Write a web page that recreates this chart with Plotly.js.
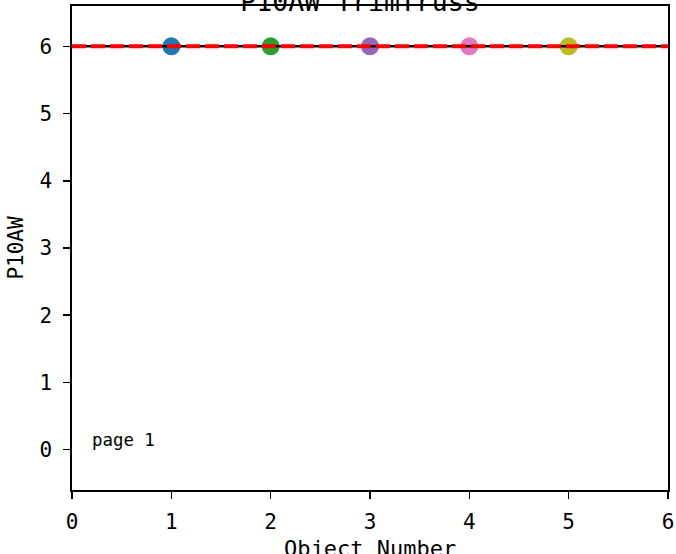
<!DOCTYPE html>
<html><head><meta charset="utf-8">
<script src="https://cdn.plot.ly/plotly-3.0.1.min.js"></script>
<style>html,body{margin:0;padding:0;background:#fff}</style>
</head><body>
<div id="chart" style="width:676px;height:554px"></div>
<script>
const objectNumbers = [1, 2, 3, 4, 5];
const p10awValues = [6, 6, 6, 6, 6];
const pointColors = ['#1f77b4', '#2ca02c', '#9467bd', '#e377c2', '#bcbd22'];
const lineX = [0, 6];
const refValue = 6;
const limitValue = 6;
const xTicks = [0, 1, 2, 3, 4, 5, 6];
const yTicks = [0, 1, 2, 3, 4, 5, 6];
const FONT = 'DejaVu Sans Mono, monospace';

const traces = objectNumbers.map((n, i) => ({
  x: [n], y: [p10awValues[i]], mode: 'markers', type: 'scatter',
  marker: {color: pointColors[i], size: 18}, showlegend: false, hoverinfo: 'skip'
}));
traces.push({x: lineX, y: lineX.map(() => refValue), mode: 'lines', type: 'scatter',
  line: {color: '#000000', width: 2.5}, showlegend: false});
traces.push({x: lineX, y: lineX.map(() => limitValue), mode: 'lines', type: 'scatter',
  line: {color: '#ff0000', width: 4, dash: '14px,5px'}, showlegend: false});

const layout = {
  width: 676, height: 554,
  margin: {l: 72, r: 8, t: 6, b: 64},
  paper_bgcolor: '#fff', plot_bgcolor: '#fff',
  font: {family: FONT, color: '#000', size: 20},
  title: {text: 'P10AW TrimTruss', font: {family: FONT, size: 26.5, color: '#000'},
    x: 360/676, xanchor: 'center', y: 1 - 2/554, yref: 'container', yanchor: 'middle'},
  xaxis: {range: [0, 6], tickvals: xTicks, ticktext: xTicks.map(String), ticks: 'outside', ticklen: 7, tickwidth: 1.6,
    tickcolor: '#000', showline: true, linecolor: '#000', linewidth: 1.6, mirror: true, showgrid: false, zeroline: false,
    tickfont: {family: FONT, size: 21}, ticklabelstandoff: 5},
  yaxis: {range: [-0.6, 6.6], tickvals: yTicks, ticktext: yTicks.map(String), ticks: 'outside', ticklen: 7, tickwidth: 1.6,
    tickcolor: '#000', showline: true, linecolor: '#000', linewidth: 1.6, mirror: true, showgrid: false, zeroline: false,
    tickfont: {family: FONT, size: 21}, ticklabelstandoff: 7,
    title: {text: 'P10AW', font: {family: FONT, size: 21}, standoff: 10}},
  annotations: [
    {x: 0.18, y: 0.15, xref: 'x', yref: 'y', text: 'page 1', showarrow: false,
      xanchor: 'left', yanchor: 'middle', font: {family: FONT, size: 17.4, color: '#000'}},
    {x: 0.5, y: 0, xref: 'paper', yref: 'paper', text: 'Object Number', showarrow: false,
      xanchor: 'center', yanchor: 'top', yshift: -44, font: {family: FONT, size: 22, color: '#000'}}
  ]
};
Plotly.newPlot('chart', traces, layout, {displayModeBar: false, staticPlot: true});
</script>
</body></html>
